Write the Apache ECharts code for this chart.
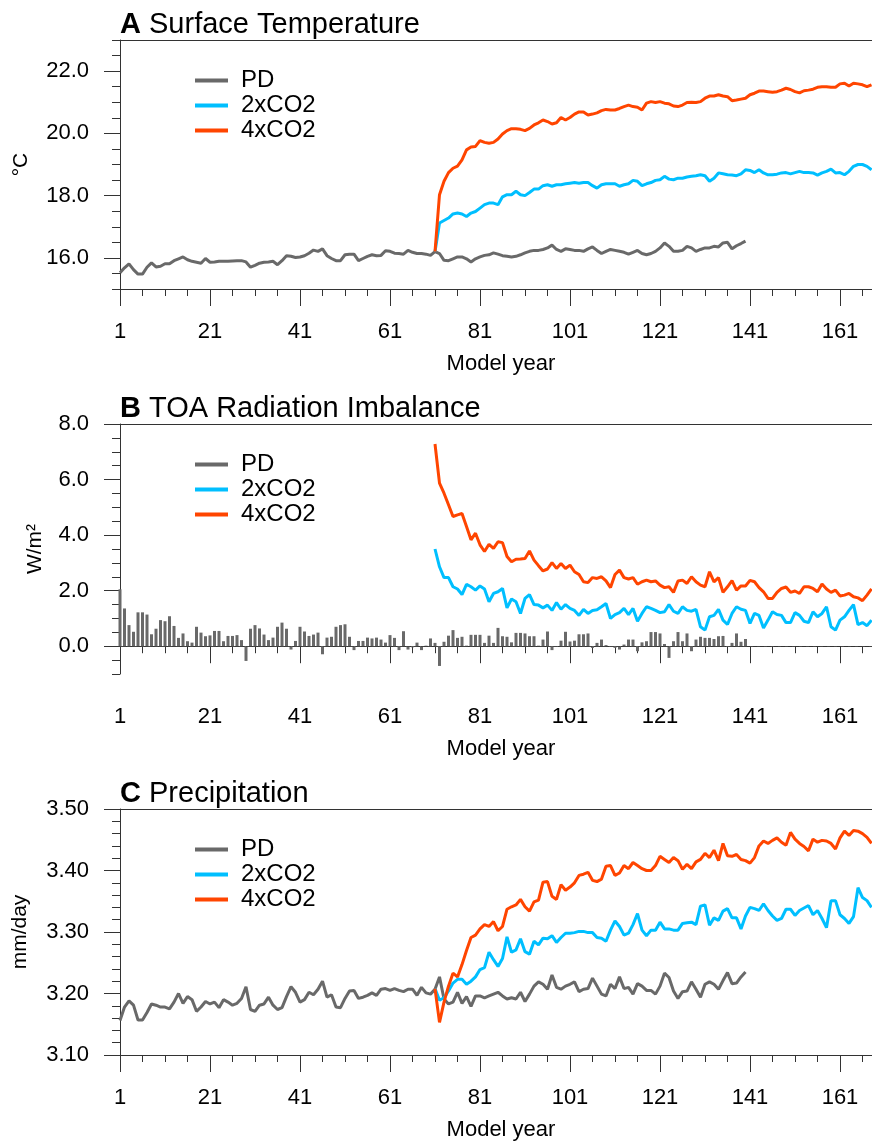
<!DOCTYPE html>
<html>
<head>
<meta charset="utf-8">
<title>Surface temperature, TOA imbalance and precipitation</title>
<script src="https://cdn.jsdelivr.net/npm/echarts@6/dist/echarts.min.js"></script>
<style>
    html, body { margin: 0; padding: 0; background: #fff; }
    #chart { width: 872px; height: 1142px; }
</style>
</head>
<body>
<div id="chart"></div>
<script>
// first model year of each run
const pdStart = 1
const co2Start = 71

// tick labels
const yearTicks = [1, 21, 41, 61, 81, 101, 121, 141, 161]
const tempTicks = [16, 18, 20, 22]
const toaTicks = [0, 2, 4, 6, 8]
const prTicks = [3.1, 3.2, 3.3, 3.4, 3.5]

// A: surface temperature (°C)
const tempPD = [
    15.52, 15.68, 15.81, 15.62, 15.48, 15.48, 15.70, 15.84, 15.71, 15.73,
    15.81, 15.81, 15.91, 15.97, 16.03, 15.94, 15.89, 15.86, 15.83, 15.98,
    15.86, 15.87, 15.89, 15.89, 15.89, 15.90, 15.91, 15.91, 15.87, 15.70,
    15.76, 15.83, 15.86, 15.87, 15.89, 15.78, 15.91, 16.07, 16.05, 16.01,
    16.03, 16.07, 16.15, 16.25, 16.21, 16.29, 16.07, 15.98, 15.91, 15.91,
    16.10, 16.12, 16.12, 15.91, 15.98, 16.05, 16.10, 16.07, 16.08, 16.23,
    16.21, 16.15, 16.14, 16.12, 16.24, 16.18, 16.14, 16.14, 16.12, 16.08,
    16.20, 16.14, 15.92, 15.91, 15.97, 16.03, 16.03, 15.97, 15.87, 15.97,
    16.03, 16.08, 16.10, 16.16, 16.12, 16.07, 16.05, 16.03, 16.05, 16.10,
    16.16, 16.21, 16.24, 16.24, 16.27, 16.32, 16.41, 16.27, 16.21, 16.29,
    16.27, 16.24, 16.24, 16.21, 16.29, 16.35, 16.24, 16.14, 16.21, 16.27,
    16.24, 16.21, 16.18, 16.12, 16.18, 16.24, 16.14, 16.10, 16.14, 16.21,
    16.32, 16.48, 16.37, 16.21, 16.21, 16.24, 16.37, 16.32, 16.21, 16.27,
    16.32, 16.32, 16.37, 16.35, 16.48, 16.50, 16.29, 16.39, 16.46, 16.54,
]
const temp2x = [
    16.20, 17.12, 17.20, 17.28, 17.41, 17.44, 17.41, 17.33, 17.44, 17.49,
    17.60, 17.71, 17.76, 17.76, 17.71, 17.96, 18.03, 18.03, 18.14, 18.03,
    18.00, 18.10, 18.21, 18.21, 18.32, 18.35, 18.30, 18.35, 18.35, 18.38,
    18.40, 18.42, 18.40, 18.42, 18.42, 18.32, 18.24, 18.35, 18.38, 18.38,
    18.38, 18.30, 18.35, 18.38, 18.49, 18.46, 18.32, 18.38, 18.42, 18.49,
    18.51, 18.62, 18.53, 18.51, 18.56, 18.56, 18.60, 18.62, 18.64, 18.67,
    18.64, 18.46, 18.56, 18.73, 18.70, 18.67, 18.66, 18.64, 18.70, 18.83,
    18.81, 18.74, 18.83, 18.73, 18.67, 18.67, 18.69, 18.73, 18.74, 18.70,
    18.74, 18.78, 18.74, 18.74, 18.73, 18.66, 18.73, 18.78, 18.85, 18.73,
    18.74, 18.67, 18.78, 18.94, 19.00, 19.00, 18.94, 18.83,
]
const temp4x = [
    16.20, 18.03, 18.46, 18.74, 18.88, 18.95, 19.15, 19.47, 19.56, 19.58,
    19.77, 19.71, 19.68, 19.71, 19.82, 19.98, 20.09, 20.15, 20.15, 20.13,
    20.09, 20.16, 20.27, 20.34, 20.43, 20.38, 20.30, 20.34, 20.51, 20.43,
    20.51, 20.62, 20.69, 20.69, 20.59, 20.62, 20.66, 20.73, 20.77, 20.75,
    20.75, 20.80, 20.86, 20.91, 20.86, 20.84, 20.75, 20.97, 21.02, 20.99,
    21.02, 20.97, 20.95, 20.88, 20.86, 20.91, 20.99, 21.00, 20.99, 21.02,
    21.13, 21.20, 21.20, 21.24, 21.20, 21.18, 21.05, 21.07, 21.10, 21.13,
    21.24, 21.29, 21.36, 21.36, 21.34, 21.32, 21.34, 21.39, 21.45, 21.41,
    21.34, 21.30, 21.37, 21.39, 21.42, 21.48, 21.50, 21.50, 21.48, 21.48,
    21.59, 21.61, 21.52, 21.61, 21.59, 21.56, 21.50, 21.56,
]

// B: TOA radiation imbalance (W/m2)
const toaPD = [
    2.05, 1.36, 0.76, 0.52, 1.22, 1.22, 1.14, 0.43, 0.63, 0.94,
    0.90, 1.08, 0.73, 0.30, 0.46, 0.18, 0.13, 0.70, 0.49, 0.36,
    0.39, 0.55, 0.55, 0.18, 0.37, 0.37, 0.40, 0.22, -0.53, 0.63,
    0.76, 0.64, 0.42, 0.22, 0.31, 0.70, 0.85, 0.63, -0.12, 0.19,
    0.70, 0.53, 0.37, 0.42, 0.49, -0.29, 0.31, 0.34, 0.70, 0.76,
    0.79, 0.34, -0.14, 0.19, 0.19, 0.31, 0.28, 0.31, 0.24, 0.13,
    0.40, 0.30, -0.14, 0.54, -0.12, -0.04, 0.13, -0.14, 0.02, 0.28,
    0.12, -0.71, 0.16, 0.38, 0.58, 0.30, 0.34, 0.02, 0.41, 0.41,
    0.41, 0.12, 0.38, 0.12, 0.66, 0.36, 0.34, 0.14, 0.48, 0.48,
    0.46, 0.36, 0.36, 0.02, 0.24, 0.53, -0.14, -0.02, 0.20, 0.52,
    0.17, 0.20, 0.43, 0.43, 0.46, -0.06, 0.12, 0.24, 0.04, -0.02,
    -0.06, -0.12, 0.06, 0.24, 0.24, -0.18, 0.14, 0.18, 0.51, 0.51,
    0.46, 0.08, -0.42, 0.18, 0.51, 0.18, 0.46, -0.18, 0.24, 0.34,
    0.30, 0.30, 0.26, 0.36, 0.37, -0.02, 0.12, 0.46, 0.16, 0.26,
]
const toa2x = [
    3.50, 2.86, 2.47, 2.47, 2.14, 2.06, 1.86, 2.23, 2.14, 2.02,
    2.17, 2.06, 1.60, 1.90, 1.96, 2.08, 1.38, 1.70, 1.60, 1.18,
    1.72, 1.86, 1.50, 1.48, 1.38, 1.48, 1.29, 1.57, 1.33, 1.50,
    1.36, 1.29, 1.11, 1.33, 1.18, 1.29, 1.31, 1.42, 1.54, 1.00,
    1.14, 1.21, 1.36, 1.14, 1.36, 0.90, 1.18, 1.42, 1.36, 1.29,
    1.21, 1.24, 1.50, 1.26, 1.18, 1.42, 1.29, 1.26, 1.33, 0.70,
    0.58, 1.06, 1.11, 1.33, 0.94, 0.78, 1.18, 1.42, 1.33, 1.29,
    0.82, 1.18, 1.11, 0.66, 0.94, 1.24, 1.14, 1.11, 0.85, 0.85,
    1.21, 1.11, 0.90, 0.85, 1.24, 1.06, 1.18, 1.42, 0.70, 0.58,
    0.94, 1.06, 1.29, 1.50, 0.78, 0.85, 0.74, 0.94,
]
const toa4x = [
    7.28, 5.87, 5.51, 5.09, 4.67, 4.73, 4.78, 4.31, 3.83, 4.07,
    3.65, 3.41, 3.67, 3.52, 3.76, 3.73, 3.23, 3.04, 3.13, 3.14,
    3.16, 3.43, 3.10, 2.90, 2.71, 2.78, 3.01, 2.80, 2.98, 2.80,
    2.92, 2.68, 2.58, 2.32, 2.29, 2.47, 2.44, 2.50, 2.35, 2.11,
    2.58, 2.74, 2.47, 2.42, 2.47, 2.23, 2.32, 2.38, 2.32, 2.35,
    2.20, 2.11, 2.14, 1.94, 2.35, 2.38, 2.26, 2.50, 2.32, 2.20,
    2.14, 2.68, 2.32, 2.47, 1.94, 2.14, 2.36, 2.02, 2.17, 2.17,
    2.37, 2.32, 2.11, 1.96, 1.72, 1.72, 1.94, 2.08, 2.13, 1.94,
    1.99, 1.90, 2.14, 2.14, 2.08, 1.96, 2.24, 2.06, 1.94, 2.02,
    1.81, 1.84, 1.90, 1.78, 1.74, 1.64, 1.84, 2.06,
]

// C: precipitation (mm/day)
const prPD = [
    3.156, 3.178, 3.188, 3.181, 3.157, 3.157, 3.169, 3.183, 3.181, 3.178,
    3.178, 3.175, 3.186, 3.200, 3.184, 3.195, 3.190, 3.171, 3.178, 3.187,
    3.183, 3.186, 3.177, 3.190, 3.186, 3.181, 3.184, 3.192, 3.211, 3.174,
    3.171, 3.181, 3.183, 3.194, 3.181, 3.174, 3.177, 3.195, 3.211, 3.202,
    3.186, 3.190, 3.202, 3.198, 3.207, 3.220, 3.194, 3.198, 3.178, 3.177,
    3.192, 3.204, 3.205, 3.192, 3.194, 3.197, 3.201, 3.197, 3.207, 3.208,
    3.205, 3.208, 3.205, 3.203, 3.207, 3.207, 3.197, 3.210, 3.201, 3.199,
    3.207, 3.227, 3.191, 3.183, 3.186, 3.202, 3.184, 3.195, 3.179, 3.196,
    3.196, 3.193, 3.196, 3.199, 3.202, 3.196, 3.191, 3.193, 3.191, 3.202,
    3.187, 3.199, 3.212, 3.219, 3.215, 3.207, 3.230, 3.210, 3.207, 3.212,
    3.215, 3.219, 3.203, 3.207, 3.208, 3.225, 3.212, 3.199, 3.196, 3.215,
    3.208, 3.227, 3.208, 3.210, 3.199, 3.216, 3.212, 3.205, 3.205, 3.199,
    3.212, 3.233, 3.226, 3.204, 3.192, 3.203, 3.204, 3.219, 3.207, 3.194,
    3.215, 3.219, 3.215, 3.207, 3.221, 3.234, 3.216, 3.217, 3.227, 3.235,
]
const pr2x = [
    3.208, 3.189, 3.193, 3.204, 3.217, 3.223, 3.223, 3.215, 3.220, 3.227,
    3.239, 3.242, 3.267, 3.255, 3.244, 3.257, 3.292, 3.267, 3.271, 3.289,
    3.268, 3.264, 3.285, 3.279, 3.290, 3.289, 3.294, 3.283, 3.291, 3.298,
    3.298, 3.299, 3.301, 3.301, 3.299, 3.299, 3.291, 3.290, 3.285, 3.303,
    3.318, 3.309, 3.295, 3.298, 3.312, 3.330, 3.303, 3.294, 3.303, 3.303,
    3.316, 3.305, 3.305, 3.303, 3.303, 3.314, 3.315, 3.316, 3.312, 3.342,
    3.344, 3.311, 3.323, 3.319, 3.334, 3.338, 3.323, 3.323, 3.305, 3.326,
    3.340, 3.338, 3.335, 3.346, 3.335, 3.326, 3.319, 3.322, 3.337, 3.337,
    3.327, 3.335, 3.339, 3.343, 3.328, 3.335, 3.322, 3.307, 3.351, 3.351,
    3.328, 3.322, 3.314, 3.325, 3.372, 3.356, 3.351, 3.340,
]
const pr4x = [
    3.208, 3.153, 3.186, 3.212, 3.233, 3.227, 3.247, 3.270, 3.291, 3.295,
    3.305, 3.312, 3.309, 3.317, 3.302, 3.309, 3.337, 3.341, 3.344, 3.353,
    3.341, 3.334, 3.349, 3.352, 3.381, 3.382, 3.358, 3.353, 3.377, 3.368,
    3.373, 3.380, 3.392, 3.394, 3.397, 3.384, 3.382, 3.386, 3.407, 3.408,
    3.392, 3.396, 3.408, 3.403, 3.413, 3.408, 3.403, 3.400, 3.400, 3.408,
    3.423, 3.418, 3.413, 3.421, 3.416, 3.402, 3.410, 3.403, 3.414, 3.418,
    3.428, 3.421, 3.433, 3.416, 3.444, 3.424, 3.423, 3.426, 3.418, 3.416,
    3.412, 3.421, 3.440, 3.448, 3.444, 3.449, 3.453, 3.446, 3.441, 3.462,
    3.451, 3.444, 3.439, 3.432, 3.451, 3.446, 3.449, 3.448, 3.444, 3.435,
    3.453, 3.464, 3.457, 3.465, 3.464, 3.460, 3.454, 3.444,
]

const FONT = '"Liberation Sans", Arial, Helvetica, sans-serif'
const GRAY = '#696969'
const BLUE = '#00bfff'
const RED = '#ff4500'
const INK = '#000'
const SPINE = '#333'

// [year, value] pairs
function pairs(start, values) {
    return values.map((v, i) => [start + i, v])
}

// evenly spaced tick positions (for the short minor ticks)
function steps(from, to, step) {
    const out = []
    for (let i = 0; from + i * step <= to + step / 1000; i++) {
        out.push(+(from + i * step).toFixed(4))
    }
    return out
}

const panels = [
    {
        letter: 'A', title: 'Surface Temperature', top: 40, height: 249,
        min: 15, max: 23, minor: 0.5, ticks: tempTicks, digits: 1,
        unit: '°C', unitGap: 88,
        pd: tempPD, x2: temp2x, x4: temp4x,
    },
    {
        letter: 'B', title: 'TOA Radiation Imbalance', top: 424, height: 250,
        min: -1, max: 8, minor: 0.5, ticks: toaTicks, digits: 1,
        unit: 'W/m²', unitGap: 74, bars: true,
        pd: toaPD, x2: toa2x, x4: toa4x,
    },
    {
        letter: 'C', title: 'Precipitation', top: 809, height: 249,
        min: 3.1, max: 3.5, minor: 0.02, ticks: prTicks, digits: 2,
        unit: 'mm/day', unitGap: 89,
        pd: prPD, x2: pr2x, x4: pr4x,
    },
]

// the plot runs past the right edge of the picture; show years 1 .. ~168
const xMin = 1
const xMax = 1 + 752 / 4.5
const minorYears = steps(xMin, 166, 5)

const titles = []
const grids = []
const legends = []
const xAxes = []
const yAxes = []
const series = []

panels.forEach((p, i) => {
    titles.push({
        text: '{b|' + p.letter + '} ' + p.title,
        left: 120,
        top: p.top - 30,
        padding: 0,
        textStyle: {
            fontFamily: FONT,
            fontSize: 29,
            fontWeight: 'normal',
            color: INK,
            rich: {
                b: { fontFamily: FONT, fontSize: 29, fontWeight: 'bold', color: INK },
            },
        },
    })
    grids.push({
        left: 120,
        right: 0,
        top: p.top,
        height: p.height,
        show: false,
    })
    legends.push({
        data: ['PD', '2xCO2', '4xCO2'],
        orient: 'vertical',
        left: 195,
        top: p.top + 28,
        padding: 0,
        itemGap: 0,
        itemWidth: 33,
        itemHeight: 4,
        icon: 'rect',
        selectedMode: false,
        textStyle: { fontFamily: FONT, fontSize: 24, lineHeight: 25, color: INK, padding: [0, 0, 0, 8] },
    })

    // minor ticks + bottom spine
    xAxes.push({
        type: 'value', gridIndex: i, min: xMin, max: xMax, position: 'bottom',
        axisLine: { show: true, lineStyle: { color: SPINE, width: 1 } },
        axisTick: { show: true, length: 7, customValues: minorYears, lineStyle: { color: SPINE } },
        axisLabel: { show: false },
        splitLine: { show: false },
    })
    // major ticks, labels, name
    xAxes.push({
        type: 'value', gridIndex: i, min: xMin, max: xMax, position: 'bottom',
        axisLine: { show: false },
        axisTick: { show: true, length: 17, customValues: yearTicks, lineStyle: { color: SPINE } },
        axisLabel: { customValues: yearTicks, margin: 32, fontSize: 22, fontFamily: FONT, color: INK },
        splitLine: { show: false },
        name: 'Model year',
        nameLocation: 'middle',
        nameGap: 64,
        nameTextStyle: { fontSize: 22, fontFamily: FONT, color: INK, padding: [0, 0, 0, 10] },
    })
    // top spine
    xAxes.push({
        type: 'value', gridIndex: i, min: xMin, max: xMax, position: 'top',
        axisLine: { show: true, lineStyle: { color: SPINE, width: 1 } },
        axisTick: { show: false },
        axisLabel: { show: false },
        splitLine: { show: false },
    })

    yAxes.push({
        type: 'value', gridIndex: i, min: p.min, max: p.max, position: 'left',
        axisLine: { show: true, lineStyle: { color: SPINE, width: 1 } },
        axisTick: { show: true, length: 8, customValues: steps(p.min, p.max, p.minor), lineStyle: { color: SPINE } },
        axisLabel: { show: false },
        splitLine: { show: false },
    })
    yAxes.push({
        type: 'value', gridIndex: i, min: p.min, max: p.max, position: 'left',
        axisLine: { show: false },
        axisTick: { show: true, length: 16, customValues: p.ticks, lineStyle: { color: SPINE } },
        axisLabel: {
            customValues: p.ticks, margin: 31, fontSize: 22, fontFamily: FONT, color: INK,
            formatter: (v) => v.toFixed(p.digits),
        },
        splitLine: { show: false },
        name: p.unit,
        nameLocation: 'middle',
        nameGap: p.unitGap,
        nameTextStyle: { fontSize: 21, fontFamily: FONT, color: INK },
    })

    const ax = { xAxisIndex: 3 * i, yAxisIndex: 2 * i }
    if (p.bars) {
        series.push({
            name: 'PD', type: 'bar', ...ax,
            data: pairs(pdStart, p.pd),
            barWidth: 3,
            itemStyle: { color: GRAY },
            markLine: {
                silent: true,
                symbol: 'none',
                label: { show: false },
                lineStyle: { color: '#444', width: 1, type: [3, 4] },
                data: [{ yAxis: 0 }],
            },
        })
    } else {
        series.push({
            name: 'PD', type: 'line', ...ax,
            data: pairs(pdStart, p.pd),
            showSymbol: false,
            itemStyle: { color: GRAY },
            lineStyle: { color: GRAY, width: 3 },
        })
    }
    series.push({
        name: '2xCO2', type: 'line', ...ax,
        data: pairs(co2Start, p.x2),
        showSymbol: false,
        itemStyle: { color: BLUE },
        lineStyle: { color: BLUE, width: 3 },
    })
    series.push({
        name: '4xCO2', type: 'line', ...ax,
        data: pairs(co2Start, p.x4),
        showSymbol: false,
        itemStyle: { color: RED },
        lineStyle: { color: RED, width: 3 },
    })
})

const chart = echarts.init(document.getElementById('chart'), null, { renderer: 'canvas' })
chart.setOption({
    animation: false,
    backgroundColor: '#fff',
    title: titles,
    grid: grids,
    legend: legends,
    xAxis: xAxes,
    yAxis: yAxes,
    series: series,
})
</script>
</body>
</html>
